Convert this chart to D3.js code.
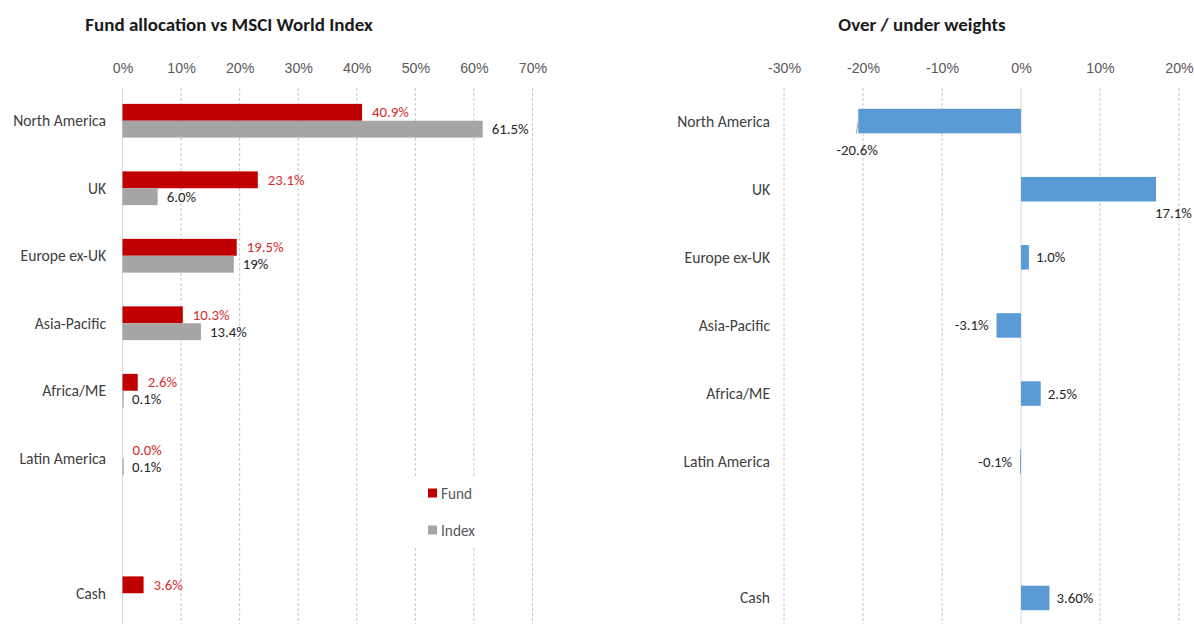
<!DOCTYPE html>
<html>
<head>
<meta charset="utf-8">
<script src="https://cdn.jsdelivr.net/npm/d3@7"></script>
<style>
  html, body { margin: 0; padding: 0; background: #ffffff; }
  svg { display: block; font-family: Carlito, Calibri, Lato, "Open Sans", sans-serif; }
</style>
</head>
<body>
<svg id="chart" width="1194" height="624"></svg>
<script>
// Regions (the empty entry keeps a blank row before Cash)
const regions = ["North America", "UK", "Europe ex-UK", "Asia-Pacific", "Africa/ME", "Latin America", "", "Cash"];

// Fund and MSCI World Index allocation, in %
const fundValues  = [40.9, 23.1, 19.5, 10.3, 2.6, 0.0, null, 3.6];
const indexValues = [61.5, 6.0, 19, 13.4, 0.1, 0.1, null, null];
const indexDecimals = [1, 1, 0, 1, 1, 1, null, null];

// Over / under weight relative to the index, in %
const weightValues   = [-20.6, 17.1, 1.0, -3.1, 2.5, -0.1, null, 3.6];
const weightDecimals = [1, 1, 1, 1, 1, 1, null, 2];

// Axis ticks
const allocTicks  = [0, 10, 20, 30, 40, 50, 60, 70];
const weightTicks = [-30, -20, -10, 0, 10, 20];

const seriesNames = ["Fund", "Index"];

const COLORS = { fund: "#c00000", index: "#a5a5a5", weight: "#5b9bd5" };
const TEXT = "#404040", TICK = "#595959", FUND_LABEL = "#d42b2b";
const FS = { title: 19, cat: 15.6, tick: 14.2, label: 14.8, legend: 15.3 };

const svg = d3.select("#chart");
const fmt = (v, d) => v.toFixed(d) + "%";

// ---------------- Left panel: allocation ----------------
const left = svg.append("g");

left.append("text")
  .attr("x", 229).attr("y", 24)
  .attr("text-anchor", "middle").attr("dominant-baseline", "central")
  .attr("font-size", FS.title).attr("font-weight", "bold").attr("fill", "#1a1a1a")
  .text("Fund allocation vs MSCI World Index");

const xA = d3.scaleLinear().domain([0, 70]).range([122.5, 532.5]);
const yA = d3.scaleBand().domain(regions).range([87, 627]).paddingInner(0.5).paddingOuter(0.25);
const ySub = d3.scaleBand().domain(seriesNames).range([0, yA.bandwidth()]);

// gridlines
left.append("g").selectAll("line")
  .data(allocTicks)
  .join("line")
  .attr("x1", d => xA(d)).attr("x2", d => xA(d))
  .attr("y1", 88).attr("y2", 624)
  .attr("stroke", d => d === 0 ? "#d9d9d9" : "#c6c6c6")
  .attr("stroke-width", 1)
  .attr("stroke-dasharray", d => d === 0 ? null : "3,2");

// top axis
const axA = left.append("g")
  .attr("transform", "translate(0,68)")
  .call(d3.axisTop(xA).tickValues(allocTicks).tickSize(0).tickPadding(0).tickFormat(d => d + "%"));
axA.select(".domain").remove();
axA.selectAll("text")
  .attr("dy", null).attr("dominant-baseline", "central")
  .attr("font-size", FS.tick).attr("fill", TICK).attr("font-family", null);

// category labels
left.append("g").selectAll("text")
  .data(regions)
  .join("text")
  .attr("x", 106)
  .attr("y", d => yA(d) + yA.bandwidth() / 2)
  .attr("text-anchor", "end").attr("dominant-baseline", "central")
  .attr("font-size", FS.cat).attr("fill", TEXT)
  .text(d => d);

// fund bars + labels
const fundRows = regions.map((r, i) => ({ r, v: fundValues[i] })).filter(d => d.v !== null);
left.append("g").selectAll("rect")
  .data(fundRows)
  .join("rect")
  .attr("x", xA(0))
  .attr("y", d => yA(d.r) + ySub("Fund"))
  .attr("width", d => xA(d.v) - xA(0))
  .attr("height", ySub.bandwidth())
  .attr("fill", COLORS.fund);
left.append("g").selectAll("text")
  .data(fundRows)
  .join("text")
  .attr("x", d => xA(d.v) + 10)
  .attr("y", d => yA(d.r) + ySub("Fund") + ySub.bandwidth() / 2)
  .attr("dominant-baseline", "central")
  .attr("font-size", FS.label).attr("fill", FUND_LABEL)
  .text(d => fmt(d.v, 1));

// index bars + labels
const indexRows = regions.map((r, i) => ({ r, v: indexValues[i], dec: indexDecimals[i] })).filter(d => d.v !== null);
left.append("g").selectAll("rect")
  .data(indexRows)
  .join("rect")
  .attr("x", xA(0))
  .attr("y", d => yA(d.r) + ySub("Index"))
  .attr("width", d => Math.max(xA(d.v) - xA(0), 1.2))
  .attr("height", ySub.bandwidth())
  .attr("fill", COLORS.index);
left.append("g").selectAll("text")
  .data(indexRows)
  .join("text")
  .attr("x", d => xA(d.v) + 9)
  .attr("y", d => yA(d.r) + ySub("Index") + ySub.bandwidth() / 2)
  .attr("dominant-baseline", "central")
  .attr("font-size", FS.label).attr("fill", "#262626")
  .text(d => fmt(d.v, d.dec));

// legend
const legend = left.append("g").attr("transform", "translate(414,477)");
legend.append("rect").attr("width", 64).attr("height", 71).attr("fill", "#ffffff");
const legendItems = legend.selectAll("g")
  .data(seriesNames)
  .join("g")
  .attr("transform", (d, i) => `translate(14,${16 + i * 37})`);
legendItems.append("rect")
  .attr("x", 0).attr("y", -4.5).attr("width", 9).attr("height", 9)
  .attr("fill", d => d === "Fund" ? COLORS.fund : COLORS.index);
legendItems.append("text")
  .attr("x", 13).attr("y", 0)
  .attr("dominant-baseline", "central")
  .attr("font-size", FS.legend).attr("fill", "#595959")
  .text(d => d);

// ---------------- Right panel: over / under weights ----------------
const right = svg.append("g");

right.append("text")
  .attr("x", 922).attr("y", 24)
  .attr("text-anchor", "middle").attr("dominant-baseline", "central")
  .attr("font-size", FS.title).attr("font-weight", "bold").attr("fill", "#1a1a1a")
  .text("Over / under weights");

const xW = d3.scaleLinear().domain([-30, 20]).range([784, 1179]);
const yW = d3.scaleBand().domain(regions).range([87, 632]).paddingInner(0.64).paddingOuter(0.32);

right.append("g").selectAll("line")
  .data(weightTicks)
  .join("line")
  .attr("x1", d => xW(d)).attr("x2", d => xW(d))
  .attr("y1", 88).attr("y2", 624)
  .attr("stroke", d => d === 0 ? "#d9d9d9" : "#c6c6c6")
  .attr("stroke-width", 1)
  .attr("stroke-dasharray", d => d === 0 ? null : "3,2");

const axW = right.append("g")
  .attr("transform", "translate(0,68)")
  .call(d3.axisTop(xW).tickValues(weightTicks).tickSize(0).tickPadding(0).tickFormat(d => d + "%"));
axW.select(".domain").remove();
axW.selectAll("text")
  .attr("dy", null).attr("dominant-baseline", "central")
  .attr("font-size", FS.tick).attr("fill", TICK).attr("font-family", null);

right.append("g").selectAll("text")
  .data(regions)
  .join("text")
  .attr("x", 770)
  .attr("y", d => yW(d) + yW.bandwidth() / 2)
  .attr("text-anchor", "end").attr("dominant-baseline", "central")
  .attr("font-size", FS.cat).attr("fill", TEXT)
  .text(d => d);

const weightRows = regions.map((r, i) => ({ r, v: weightValues[i], dec: weightDecimals[i] })).filter(d => d.v !== null);
right.append("g").selectAll("rect")
  .data(weightRows)
  .join("rect")
  .attr("x", d => Math.min(xW(d.v), xW(0)))
  .attr("y", d => yW(d.r))
  .attr("width", d => Math.abs(xW(d.v) - xW(0)))
  .attr("height", yW.bandwidth())
  .attr("fill", COLORS.weight);

// labels: the largest bars carry their label below the bar end
const edge = d => Math.abs(d.v) > 15;
const wLabels = right.append("g");
wLabels.selectAll("line")
  .data(weightRows.filter(d => edge(d) && d.v < 0))
  .join("line")
  .attr("x1", d => xW(d.v)).attr("y1", d => yW(d.r) + yW.bandwidth() / 2)
  .attr("x2", d => xW(d.v) - 2).attr("y2", d => yW(d.r) + yW.bandwidth() + 0.5)
  .attr("stroke", "#a6a6a6").attr("stroke-width", 1);
wLabels.selectAll("text")
  .data(weightRows)
  .join("text")
  .attr("x", d => edge(d) ? (d.v < 0 ? xW(d.v) - 1 : xW(d.v) - 1) : (d.v < 0 ? xW(d.v) - 8 : xW(d.v) + 7))
  .attr("y", d => edge(d) ? yW(d.r) + yW.bandwidth() / 2 + (d.v < 0 ? 29 : 24) : yW(d.r) + yW.bandwidth() / 2)
  .attr("text-anchor", d => edge(d) ? (d.v < 0 ? "middle" : "start") : (d.v < 0 ? "end" : "start"))
  .attr("dominant-baseline", "central")
  .attr("font-size", FS.label).attr("fill", "#262626")
  .text(d => fmt(d.v, d.dec));
</script>
</body>
</html>
